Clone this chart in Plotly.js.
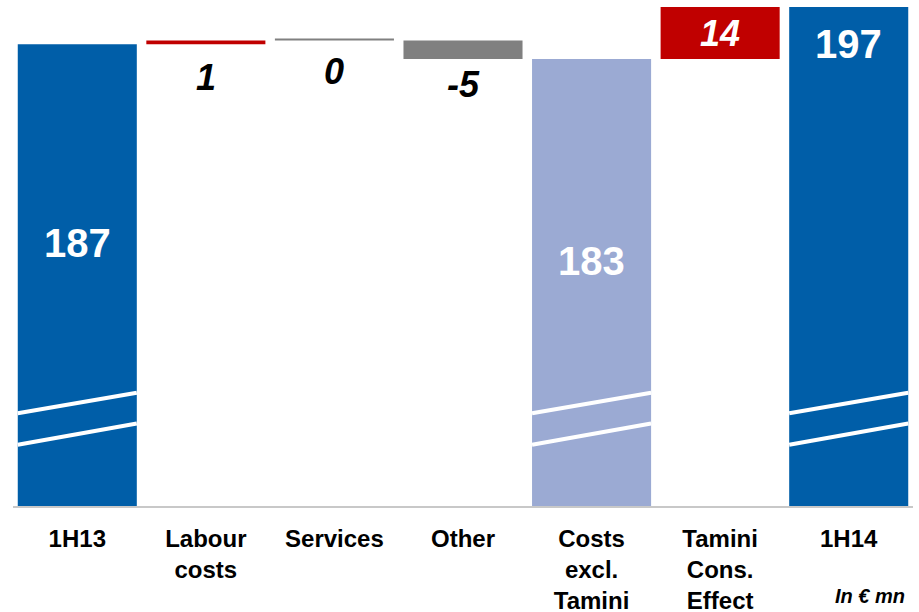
<!DOCTYPE html>
<html>
<head>
<meta charset="utf-8">
<script src="https://cdn.plot.ly/plotly-3.0.1.min.js"></script>
<style>html,body{margin:0;padding:0;background:#fff;}#chart{width:919px;height:612px;}</style>
</head>
<body>
<div id="chart"></div>
<script>
// ---- data ----
const categories = ["1H13", "Labour<br>costs", "Services", "Other", "Costs<br>excl.<br>Tamini", "Tamini<br>Cons.<br>Effect", "1H14"];
const values = [187, 1, 0, -5, 183, 14, 197];
const kinds = ["total", "delta", "delta", "delta", "total", "delta", "total"];
const labels = ["187", "1", "0", "-5", "183", "14", "197"];

// ---- styling ----
const colors = ["#005EA8", "#C00000", "#808080", "#808080", "#9BAAD3", "#C00000", "#005EA8"];
const axisFloor = 62.6;   // broken axis: bars start here
const axisTop = 198.9;
const halfW = 0.463;

// compute waterfall bases
const bases = [], heights = [], tops = [], bottoms = [];
let running = 0;
values.forEach((v, i) => {
  if (kinds[i] === "total") {
    bases.push(axisFloor); heights.push(v - axisFloor);
    running = v; tops.push(v); bottoms.push(axisFloor);
  } else {
    bases.push(running); heights.push(v);
    tops.push(Math.max(running, running + v)); bottoms.push(Math.min(running, running + v));
    running += v;
  }
});

const trace = {
  type: "bar",
  x: categories.map((c, i) => i),
  y: heights,
  base: bases,
  width: 2 * halfW,
  marker: { color: colors, line: { width: 0 } },
  hoverinfo: "skip"
};

const shapes = [];
// zero-value delta drawn as a thin line
values.forEach((v, i) => {
  if (kinds[i] === "delta" && v === 0) {
    shapes.push({ type: "line", xref: "x", yref: "y", x0: i - halfW, x1: i + halfW, y0: bases[i] + 0.25, y1: bases[i] + 0.25,
      line: { color: colors[i], width: 2 } });
  }
});
// axis-break marks on total bars
values.forEach((v, i) => {
  if (kinds[i] === "total") {
    [[87.6, 93.1], [79.1, 84.8]].forEach(p => {
      shapes.push({ type: "line", xref: "x", yref: "y", x0: i - halfW, x1: i + halfW, y0: p[0], y1: p[1],
        line: { color: "#FFFFFF", width: 4 } });
    });
  }
});

// labels
const labelShift = [-199, -33, -31, -25, -202, 0, -37];
const annotations = labels.map((t, i) => {
  let y, shift = labelShift[i], col, txt;
  if (kinds[i] === "total") {
    y = tops[i]; col = "#FFFFFF"; txt = "<b>" + t + "</b>";
  } else if (i === 5) {
    y = (tops[i] + bottoms[i]) / 2; col = "#FFFFFF"; txt = "<b><i>" + t + "</i></b>";
  } else {
    y = bottoms[i]; col = "#000000"; txt = "<b><i>" + t + "</i></b>";
  }
  return { x: i, y: y, xref: "x", yref: "y", text: txt, showarrow: false, yanchor: "middle", xanchor: "center",
    yshift: shift, font: { family: "Liberation Sans, Arial, sans-serif", size: kinds[i] === "total" ? 40 : 36, color: col } };
});
annotations.push({ xref: "paper", yref: "paper", x: 0.993, y: -0.178, xanchor: "right", yanchor: "middle",
  text: "<b><i>In € mn</i></b>", showarrow: false, font: { family: "Liberation Sans, Arial, sans-serif", size: 20, color: "#000" } });

const layout = {
  width: 919, height: 612,
  margin: { l: 13, r: 6, t: 0, b: 106 },
  paper_bgcolor: "#FFFFFF", plot_bgcolor: "#FFFFFF",
  showlegend: false,
  xaxis: {
    tickmode: "array", tickvals: categories.map((c, i) => i), ticktext: categories,
    range: [-0.5, categories.length - 0.5],
    showgrid: false, zeroline: false, ticks: "",
    showline: true, linecolor: "#C8C8C8", linewidth: 2,
    ticklabelstandoff: 10,
    tickfont: { family: "Liberation Sans, Arial, sans-serif", size: 24, color: "#000", weight: "bold" },
    fixedrange: true
  },
  yaxis: { range: [axisFloor, axisTop], visible: false, fixedrange: true },
  shapes: shapes,
  annotations: annotations
};

Plotly.newPlot("chart", [trace], layout, { displayModeBar: false, staticPlot: true });
</script>
</body>
</html>
